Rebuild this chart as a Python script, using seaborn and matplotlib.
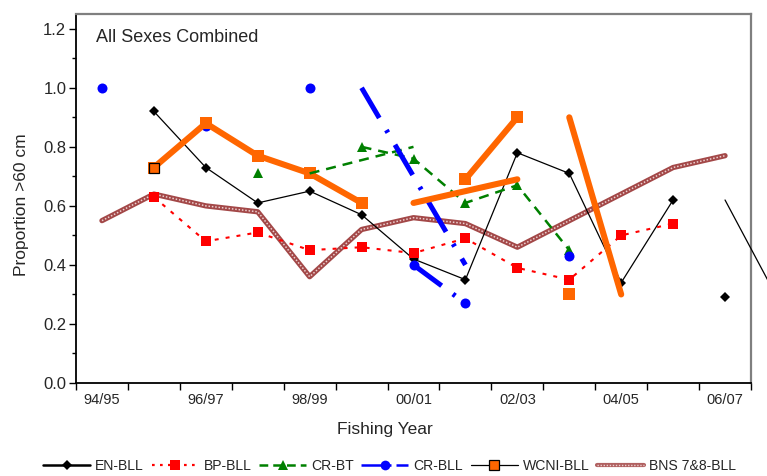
import numpy as np
import matplotlib
matplotlib.use("Agg")
import matplotlib.pyplot as plt
from matplotlib.lines import Line2D
from matplotlib.ticker import MultipleLocator
import seaborn as sns

# Fishing years on the category axis (labels shown every other year)
years = ["94/95", "95/96", "96/97", "97/98", "98/99", "99/00", "00/01",
         "01/02", "02/03", "03/04", "04/05", "05/06", "06/07"]
year_labels = years[::2]

nan = np.nan
# Proportion of fish larger than 60 cm, by fishery
en_bll   = [nan, 0.92, 0.73, 0.61, 0.65, 0.57, 0.42, 0.35, 0.78, 0.71, 0.34, 0.62, 0.29]
bp_bll   = [nan, 0.63, 0.48, 0.51, 0.45, 0.46, 0.44, 0.49, 0.39, 0.35, 0.50, 0.54, nan]
cr_bt    = [nan, nan, nan, 0.71, nan, 0.80, 0.76, 0.61, 0.67, 0.45, nan, nan, nan]
cr_bll   = [1.00, nan, 0.87, nan, 1.00, nan, 0.40, 0.27, nan, 0.43, nan, nan, nan]
wcni_bll = [nan, 0.73, 0.88, 0.77, 0.71, 0.61, nan, 0.69, 0.90, 0.30, nan, nan, nan]
bns_bll  = [0.55, 0.64, 0.60, 0.58, 0.36, 0.52, 0.56, 0.54, 0.46, 0.55, 0.64, 0.73, 0.77]

# Joins between observations that are drawn one fishing year to the right
en_shift   = [(11, 12)]
cr_bt_shift = [(3, 5)]
cr_bll_shift = [(4, 6)]
wcni_shift = [(5, 7), (8, 9)]

sns.set_theme(style="ticks")
plt.rcParams["font.family"] = ["Liberation Sans", "DejaVu Sans"]

fig = plt.figure(figsize=(7.67, 4.76), dpi=100)
ax = fig.add_axes([76 / 767, 93 / 476, 675 / 767, 369 / 476])

blue_dash = (0, (7, 2.8, 0.6, 2.8))
red_dot = (0, (1.9, 3.4))
green_dash = (0, (4, 2.8))

line_styles = {
    "EN-BLL":   dict(color="black", linewidth=0.9, linestyle="-"),
    "BP-BLL":   dict(color="#ff0000", linewidth=1.5, linestyle=red_dot),
    "CR-BT":    dict(color="#008000", linewidth=1.8, linestyle=green_dash),
    "CR-BLL":   dict(color="#0000ff", linewidth=3.6, linestyle=blue_dash),
    "WCNI-BLL": dict(color="#ff6600", linewidth=4.4, linestyle="-"),
}
marker_styles = {
    "EN-BLL":   dict(marker="D", markersize=5.2, markerfacecolor="black"),
    "BP-BLL":   dict(marker="s", markersize=6.7, markerfacecolor="#ff0000"),
    "CR-BT":    dict(marker="^", markersize=7.0, markerfacecolor="#008000"),
    "CR-BLL":   dict(marker="o", markersize=7.2, markerfacecolor="#0000ff"),
    "WCNI-BLL": dict(marker="s", markersize=8.4, markerfacecolor="#ff6600"),
}

series = [
    ("EN-BLL", en_bll, en_shift),
    ("BP-BLL", bp_bll, []),
    ("CR-BT", cr_bt, cr_bt_shift),
    ("CR-BLL", cr_bll, cr_bll_shift),
    ("WCNI-BLL", wcni_bll, wcni_shift),
]


def runs(values, shifted):
    """Split a series into connected pieces of consecutive fishing years."""
    idx = [i for i, v in enumerate(values) if not np.isnan(v)]
    out, cur = [], []
    for i in idx:
        if cur and (i - cur[-1] > 1 or (cur[-1], i) in shifted):
            out.append(cur)
            cur = []
        cur.append(i)
    if cur:
        out.append(cur)
    return out


# BNS 7&8-BLL: thick textured band underneath everything else
xs = list(range(len(years)))
sns.lineplot(x=xs, y=bns_bll, ax=ax, errorbar=None, color="#a34848",
             linewidth=3.8, zorder=2)
sns.lineplot(x=xs, y=bns_bll, ax=ax, errorbar=None, color="#ecd0d0",
             linewidth=1.1, linestyle=(0, (1, 1.2)), zorder=2.1)

for k, (name, values, shifted) in enumerate(series):
    for run in runs(values, shifted):
        sns.lineplot(x=run, y=[values[i] for i in run], ax=ax, errorbar=None,
                     markeredgewidth=0, markeredgecolor="none",
                     zorder=3 + k * 0.1,
                     **line_styles[name], **marker_styles[name])

# First WCNI-BLL observation carries an outlined marker
first = next(i for i, v in enumerate(wcni_bll) if not np.isnan(v))
sns.lineplot(x=[first], y=[wcni_bll[first]], ax=ax, errorbar=None,
             marker="s", markersize=7.0, markerfacecolor="#ff6600",
             markeredgecolor="black", markeredgewidth=0.9, linestyle="none",
             zorder=3.6)

# Offset joins, one fishing year to the right
for k, (name, values, shifted) in enumerate(series):
    for a, b in shifted:
        sns.lineplot(x=[a + 1, b + 1], y=[values[a], values[b]], ax=ax,
                     errorbar=None, clip_on=False, zorder=4 + k * 0.1,
                     **line_styles[name])

ax.text(0.03, 0.935, "All Sexes Combined", transform=ax.transAxes,
        fontsize=13, va="center", ha="left")

ax.set_xlim(-0.5, len(years) - 0.5)
ax.set_ylim(0, 1.25)

ax.set_xticks(np.arange(-0.5, len(years), 1.0))
ax.set_xticklabels([])
ax.set_xticks(range(0, len(years), 2), minor=True)
ax.set_xticklabels(year_labels, minor=True)
ax.tick_params(axis="x", which="major", length=5, width=1, color="black",
               direction="out")
ax.tick_params(axis="x", which="minor", length=0, labelsize=10.5, pad=7)

ax.set_yticks(np.arange(0, 1.21, 0.2))
ax.set_yticklabels([f"{v:.1f}" for v in np.arange(0, 1.21, 0.2)])
ax.yaxis.set_minor_locator(MultipleLocator(0.1))
ax.tick_params(axis="y", which="major", length=5, width=1, color="black",
               direction="out", labelsize=12, pad=2)
ax.tick_params(axis="y", which="minor", length=3, width=1, color="black",
               direction="out")

for side in ("left", "bottom"):
    ax.spines[side].set_color("black")
    ax.spines[side].set_linewidth(1.3)
for side in ("top", "right"):
    ax.spines[side].set_color("#7f7f7f")
    ax.spines[side].set_linewidth(1.6)

ax.set_xlabel("Fishing Year", fontsize=12.5)
ax.xaxis.set_label_coords(0.457, -0.125)
ax.xaxis.label.set_verticalalignment("center")
ax.set_ylabel("Proportion >60 cm", fontsize=12.5)
ax.yaxis.set_label_coords(-0.08, 0.482)
ax.yaxis.label.set_verticalalignment("center")

handles = [
    Line2D([], [], color="black", linewidth=1.8, marker="D", markersize=5,
           markerfacecolor="black", markeredgewidth=0),
    Line2D([], [], color="#ff0000", linewidth=1.6, linestyle=(0, (1.2, 2.4)),
           marker="s", markersize=6.5, markerfacecolor="#ff0000",
           markeredgewidth=0),
    Line2D([], [], color="#008000", linewidth=1.8, linestyle=(0, (3.5, 2)),
           marker="^", markersize=7, markerfacecolor="#008000",
           markeredgewidth=0),
    Line2D([], [], color="#0000ff", linewidth=1.8,
           linestyle=(0, (12, 2, 5, 2)), marker="o", markersize=7,
           markerfacecolor="#0000ff", markeredgewidth=0),
    Line2D([], [], color="black", linewidth=0.9, marker="s", markersize=7,
           markerfacecolor="#ff6600", markeredgecolor="black",
           markeredgewidth=0.9),
    (Line2D([], [], color="#b06060", linewidth=3.0),
     Line2D([], [], color="#ecd0d0", linewidth=1.0, linestyle=(0, (1, 1.2)))),
]
labels = ["EN-BLL", "BP-BLL", "CR-BT", "CR-BLL", "WCNI-BLL", "BNS 7&8-BLL"]
fig.legend(handles, labels, loc="center", bbox_to_anchor=(0.508, 10 / 476),
           ncol=6, frameon=False, fontsize=10.1, handlelength=3.35,
           handletextpad=0.35, columnspacing=0.55, borderaxespad=0,
           borderpad=0)

fig.savefig("out.png", dpi=100)
